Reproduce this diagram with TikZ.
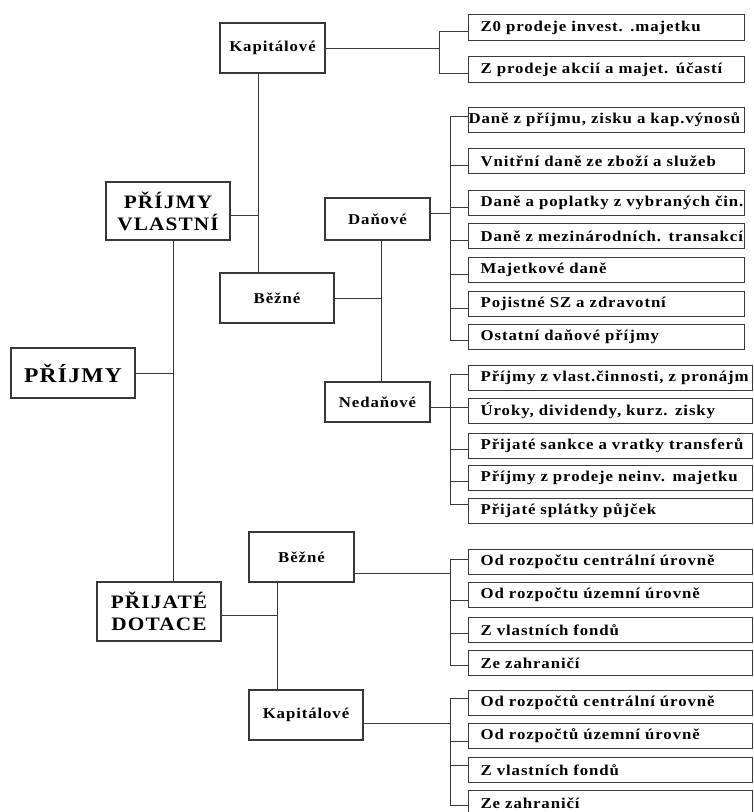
\documentclass[tikz,border=0pt]{standalone}
\usepackage{fontspec}
\newfontfamily\dfont{Liberation Serif}[LetterSpace=6,FakeStretch=1.12]
\begin{document}
\begin{tikzpicture}[x=1pt,y=-1pt,
  box/.style={draw=black!78, line width=1.3pt, rectangle, inner sep=0pt,
    font=\dfont\bfseries\fontsize{15}{18}\selectfont},
  big/.style={box, align=center, font=\dfont\bfseries\fontsize{19}{22}\selectfont},
  leaf/.style={box, anchor=north west, minimum height=25pt, inner xsep=12pt, inner ysep=0pt, align=left},
  lfa/.style={leaf, text width=252pt},
  lfb/.style={leaf, text width=260pt},
  con/.style={draw=black!78, line width=1pt}]
\useasboundingbox (0,0) rectangle (754,812);
\fill[white] (0,0) rectangle (754,812);

% main nodes
\node[big, minimum width=124pt, minimum height=50pt, font=\dfont\bfseries\fontsize{21}{24}\selectfont] (prijmy) at (73,373) {PŘÍJMY};
\node[big, minimum width=124pt, minimum height=58pt] (pv) at (168,211) {PŘÍJMY\\VLASTNÍ};
\node[big, minimum width=124pt, minimum height=59pt] (pd) at (159,611.5) {PŘIJATÉ\\DOTACE};
\node[box, minimum width=105pt, minimum height=50pt] (kap1) at (272.5,48) {Kapitálové};
\node[box, minimum width=114pt, minimum height=50pt] (bez1) at (277,298) {Běžné};
\node[box, minimum width=105pt, minimum height=42pt] (dan) at (377.5,219) {Daňové};
\node[box, minimum width=105pt, minimum height=40pt] (ned) at (377.5,402) {Nedaňové};
\node[box, minimum width=105pt, minimum height=50pt] (bez2) at (301.5,557) {Běžné};
\node[box, minimum width=114pt, minimum height=50pt] (kap2) at (306,715) {Kapitálové};

% leaves
\node[lfa, minimum height=26pt] (k1a) at (468,14) {\mbox{Z0 prodeje invest. .majetku}};
\node[lfa, minimum height=26pt] (k1b) at (468,56) {\mbox{Z prodeje akcií a majet. účastí}};

\node[leaf, inner xsep=0pt, text width=276pt] (d1) at (468,107) {\mbox{Daně z příjmu, zisku a kap.výnosů}};
\node[lfa] (d2) at (468,148) {\mbox{Vnitřní daně ze zboží a služeb}};
\node[lfa] (d3) at (468,190) {\mbox{Daně a poplatky z vybraných čin.}};
\node[lfa] (d4) at (468,223) {\mbox{Daně z mezinárodních. transakcí}};
\node[lfa] (d5) at (468,257) {\mbox{Majetkové daně}};
\node[lfa] (d6) at (468,291) {\mbox{Pojistné SZ a zdravotní}};
\node[lfa] (d7) at (468,324) {\mbox{Ostatní daňové příjmy}};

\node[lfb] (n1) at (468,365) {\mbox{Příjmy z vlast.činnosti, z pronájm}};
\node[lfb] (n2) at (468,398) {\mbox{Úroky, dividendy, kurz. zisky}};
\node[lfb] (n3) at (468,433) {\mbox{Přijaté sankce a vratky transferů}};
\node[lfb] (n4) at (468,465) {\mbox{Příjmy z prodeje neinv. majetku}};
\node[lfb] (n5) at (468,498) {\mbox{Přijaté splátky půjček}};

\node[lfb] (b1) at (468,549) {\mbox{Od rozpočtu centrální úrovně}};
\node[lfb] (b2) at (468,582) {\mbox{Od rozpočtu územní úrovně}};
\node[lfb] (b3) at (468,617) {\mbox{Z vlastních fondů}};
\node[lfb] (b4) at (468,650) {\mbox{Ze zahraničí}};

\node[lfb] (c1) at (468,690) {\mbox{Od rozpočtů centrální úrovně}};
\node[lfb] (c2) at (468,723) {\mbox{Od rozpočtů územní úrovně}};
\node[lfb] (c3) at (468,757) {\mbox{Z vlastních fondů}};
\node[lfb] (c4) at (468,790) {\mbox{Ze zahraničí}};

% bracket columns
\coordinate (xa) at (173,0);
\coordinate (xb) at (258,0);
\coordinate (xc) at (439,0);
\coordinate (xd) at (381,0);
\coordinate (xe) at (450,0);
\coordinate (xf) at (277,0);

% top level
\draw[con] (prijmy.east) -- (prijmy.east -| xa);
\draw[con] (pv.south -| xa) -- (pd.north -| xa);
\draw[con] ([yshift=-4pt]pv.east) -- ([yshift=-4pt]pv.east -| xb);
\draw[con] (kap1.south -| xb) -- (bez1.north -| xb);

% kapitalove (vlastni)
\draw[con] (kap1.east) -- (kap1.east -| xc);
\draw[con] ([yshift=-4pt]k1a.west) -- ([yshift=-4pt]k1a.west -| xc) -- ([yshift=-4pt]k1b.west -| xc) -- ([yshift=-4pt]k1b.west);

% bezne (vlastni)
\draw[con] (bez1.east) -- (bez1.east -| xd);
\draw[con] (dan.south -| xd) -- (ned.north -| xd);

% danove
\draw[con] ([yshift=6pt]dan.east) -- ([yshift=6pt]dan.east -| xe);
\draw[con] ([yshift=4pt]d1.west) -- ([yshift=4pt]d1.west -| xe) -- ([yshift=-3pt]d7.west -| xe) -- ([yshift=-3pt]d7.west);
\foreach \n in {d2,d3,d4,d5,d6}
  \draw[con] ([yshift=-4pt]\n.west) -- ([yshift=-4pt]\n.west -| xe);

% nedanove
\draw[con] ([yshift=-5pt]ned.east) -- ([yshift=-5pt]ned.east -| xe);
\draw[con] ([yshift=3.5pt]n1.west) -- ([yshift=3.5pt]n1.west -| xe) -- ([yshift=6.5pt]n5.west -| xe) -- ([yshift=6.5pt]n5.west);
\draw[con] ([yshift=3.5pt]n2.west) -- ([yshift=3.5pt]n2.west -| xe);
\draw[con] ([yshift=-3.5pt]n3.west) -- ([yshift=-3.5pt]n3.west -| xe);
\draw[con] ([yshift=-3.5pt]n4.west) -- ([yshift=-3.5pt]n4.west -| xe);

% dotace
\draw[con] ([yshift=-3.5pt]pd.east) -- ([yshift=-3.5pt]pd.east -| xf);
\draw[con] (bez2.south -| xf) -- (kap2.north -| xf);

% bezne (dotace)
\draw[con] ([yshift=-16pt]bez2.east) -- ([yshift=-16pt]bez2.east -| xe);
\draw[con] ([yshift=3pt]b1.west) -- ([yshift=3pt]b1.west -| xe) -- ([yshift=-2.5pt]b4.west -| xe) -- ([yshift=-2.5pt]b4.west);
\draw[con] ([yshift=-5.5pt]b2.west) -- ([yshift=-5.5pt]b2.west -| xe);
\draw[con] ([yshift=-3pt]b3.west) -- ([yshift=-3pt]b3.west -| xe);

% kapitalove (dotace)
\draw[con] ([yshift=-8pt]kap2.east) -- ([yshift=-8pt]kap2.east -| xe);
\draw[con] ([yshift=4.5pt]c1.west) -- ([yshift=4.5pt]c1.west -| xe) -- ([yshift=-2.5pt]c4.west -| xe) -- ([yshift=-2.5pt]c4.west);
\draw[con] ([yshift=-5.5pt]c2.west) -- ([yshift=-5.5pt]c2.west -| xe);
\draw[con] ([yshift=4.5pt]c3.west) -- ([yshift=4.5pt]c3.west -| xe);
\end{tikzpicture}
\end{document}
